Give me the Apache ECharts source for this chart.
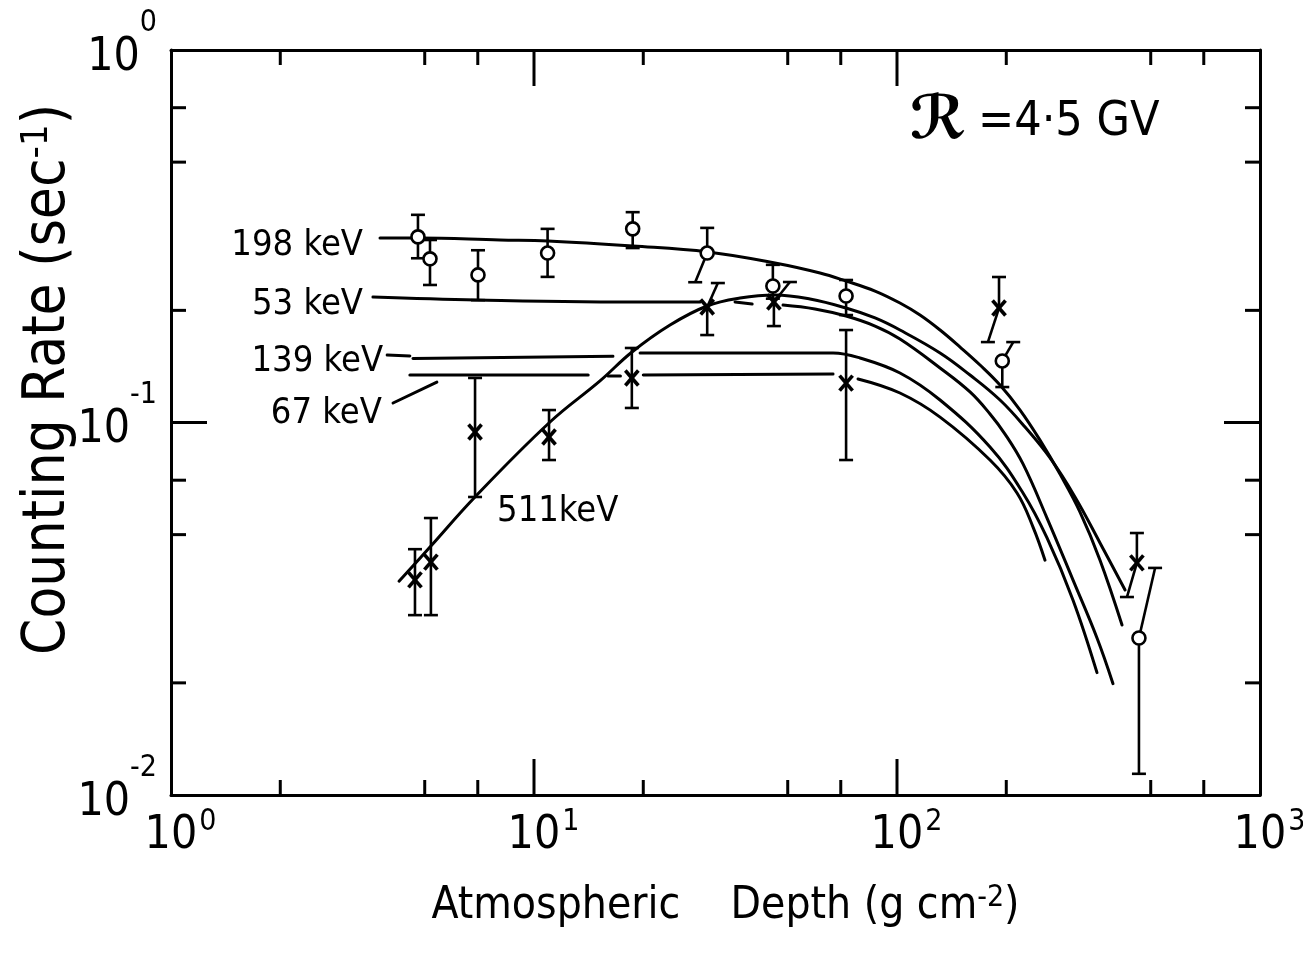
<!DOCTYPE html>
<html>
<head>
<meta charset="utf-8">
<script src="https://cdn.jsdelivr.net/npm/echarts@6/dist/echarts.min.js"></script>
<style>
  html, body { margin: 0; padding: 0; background: #fff; }
  #chart { width: 1303px; height: 955px; }
</style>
</head>
<body>
<div id="chart"></div>
<script>
const FONT = "'DejaVu Sans Condensed', 'Liberation Sans Narrow', 'DejaVu Sans', sans-serif";

// Axis ranges (log scales)
const depthRange = [1, 1000];      // g cm^-2
const rateRange = [0.01, 1];       // s^-1
const minorMultipliers = [2, 5, 7];

// Model curves: [depth, counting rate]; null splits a curve into pieces
const curve198 = [[3.765,0.3128],[4.791,0.3128],[8.059,0.3090],[10.93,0.3071],[18.74,0.2977],[30.16,0.2869],[46.12,0.2680],[61.37,0.2519],[72.37,0.2398],[87.0,0.2254],[101.9,0.2093],[115.7,0.1943],[131.4,0.1771],[149.2,0.1594],[169.3,0.1427],[192.2,0.1261],[218.3,0.1080],[247.7,0.0897],[281.2,0.0727],[319.3,0.0575],[362.5,0.0427],[416.8,0.0286]];
const curve511 = [[4.248,0.0375],[5.170,0.0463],[6.878,0.0631],[11.07,0.1003],[15.20,0.1293],[18.62,0.1546],[23.70,0.1827],[29.97,0.2055],[36.94,0.2158],[46.12,0.2199],[57.59,0.2145],[72.37,0.2029],[87.0,0.1908],[101.9,0.1771],[131.4,0.1537],[158.9,0.1341],[192.2,0.1149],[225.3,0.0972],[264.0,0.0803],[309.3,0.0631],[362.5,0.0475],[424.9,0.0355]];
const curve53 = [[3.60,0.2172],[6.97,0.2133],[20.9,0.2106],[28.7,0.2106],null,[35.8,0.2106],[39.9,0.2080],null,[48.53,0.2067],[59.44,0.2017],[72.37,0.1931],[87.0,0.1815],[101.9,0.1675],[131.4,0.1401],[158.9,0.1208],[180.4,0.1054],[198.4,0.0931],[222.4,0.0774],[259.0,0.0554],[305.3,0.0378],[355.6,0.0264],[393.6,0.0199]];
const curve139 = [[4.64,0.1485],[16.5,0.1505],null,[19.6,0.1537],[66.65,0.1537],[79.08,0.1490],[101.9,0.1358],[131.4,0.1149],[180.4,0.0859],[222.4,0.0647],[259.0,0.0490],[305.3,0.0334],[355.6,0.0213]];
const curve67 = [[4.55,0.1341],[14.1,0.1341],null,[16.0,0.1333],[17.3,0.1333],null,[20.0,0.1341],[66.65,0.1350],null,[78.09,0.1309],[101.9,0.1200],[131.4,0.1034],[180.4,0.0793],[214.1,0.0647],[237.0,0.0524],[255.7,0.0427]];

// Leader strokes from labels to curves
const leader139 = [[3.94,0.1518],[4.55,0.1509]];
const leader67 = [[4.09,0.1128],[5.40,0.1284]];

// Measurements: [depth, rate, errLow, errHigh, depthAtLowEnd, depthAtHighEnd]
const circlePoints = [
  [4.79,0.315,0.276,0.361,4.79,4.79],
  [5.17,0.275,0.234,0.309,5.17,5.17],
  [7.01,0.249,0.213,0.290,7.01,7.01],
  [10.9,0.285,0.246,0.331,10.9,10.9],
  [18.7,0.331,0.294,0.367,18.7,18.7],
  [30.0,0.285,0.238,0.333,27.8,30.0],
  [45.5,0.2325,0.215,0.265,45.5,45.5],
  [72.4,0.2186,0.1943,0.2413,72.4,72.4],
  [195,0.1463,0.1245,0.1644,195,209],
  [464,0.0264,0.0114,0.0407,464,514]
];
const crossPoints = [
  [4.70,0.0378,0.0304,0.0457,4.70,4.70],
  [5.20,0.0422,0.0304,0.0554,5.20,5.20],
  [6.88,0.0943,0.0631,0.1317,6.88,6.88],
  [11.0,0.0914,0.0793,0.1080,11.0,11.0],
  [18.6,0.1317,0.1094,0.1585,18.6,18.6],
  [30.0,0.2042,0.1717,0.2368,30.0,32.1],
  [45.8,0.2106,0.1815,0.2383,45.8,50.7],
  [72.4,0.1276,0.0793,0.1771,72.4,72.4],
  [191,0.2029,0.1644,0.2458,178,191],
  [458,0.0420,0.0340,0.0505,430,458]
];

// Curve labels: text and anchor [depth, rate]
const labelTexts = ['198 keV', '53 keV', '139 keV', '67 keV', '511keV'];
const labelAnchors = [[3.38,0.2977],[3.38,0.2067],[3.84,0.1454],[3.81,0.1054],[7.91,0.0575]];
const labelAlign = ['right', 'right', 'right', 'right', 'left'];

// Tick marks along the frame: [depth, rate, side (0 bottom,1 top,2 left,3 right), major]
function buildTicks() {
  const ticks = [];
  for (let d = depthRange[0]; d < depthRange[1]; d *= 10) {
    minorMultipliers.forEach(m => {
      ticks.push([d * m, rateRange[0], 0, 0], [d * m, rateRange[1], 1, 0]);
    });
    if (d > depthRange[0]) ticks.push([d, rateRange[0], 0, 1], [d, rateRange[1], 1, 1]);
  }
  for (let r = rateRange[0]; r < rateRange[1] * 0.999; r *= 10) {
    minorMultipliers.forEach(m => {
      ticks.push([depthRange[0], r * m, 2, 0], [depthRange[1], r * m, 3, 0]);
    });
    if (r > rateRange[0] * 1.001) ticks.push([depthRange[0], r, 2, 1], [depthRange[1], r, 3, 1]);
  }
  return ticks;
}

function splitSegments(points) {
  const segs = [[]];
  points.forEach(p => { if (p === null) segs.push([]); else segs[segs.length - 1].push(p); });
  return segs.filter(s => s.length > 1);
}

const LINE_W = 3;
const lineSeries = [];
[curve198, curve511, curve53, curve139, curve67, leader139, leader67].forEach(curve => {
  splitSegments(curve).forEach(seg => {
    lineSeries.push({
      type: 'line', data: seg, showSymbol: false, symbol: 'none',
      smooth: seg.length > 2 ? 0.4 : false, silent: true, z: 2,
      lineStyle: { color: '#000', width: LINE_W, cap: 'round', join: 'round' }
    });
  });
});

function errorBarItem(kind) {
  return function (params, api) {
    const c = api.coord([api.value(0), api.value(1)]);
    const lo = api.coord([api.value(4), api.value(2)]);
    const hi = api.coord([api.value(5), api.value(3)]);
    const cap = 7;
    const st = { stroke: '#000', lineWidth: 2.6, fill: null };
    const children = [
      { type: 'line', shape: { x1: c[0], y1: c[1], x2: hi[0], y2: hi[1] }, style: st },
      { type: 'line', shape: { x1: hi[0] - cap, y1: hi[1], x2: hi[0] + cap, y2: hi[1] }, style: st },
      { type: 'line', shape: { x1: c[0], y1: c[1], x2: lo[0], y2: lo[1] }, style: st },
      { type: 'line', shape: { x1: lo[0] - cap, y1: lo[1], x2: lo[0] + cap, y2: lo[1] }, style: st }
    ];
    if (kind === 'circle') {
      children.push({ type: 'circle', shape: { cx: c[0], cy: c[1], r: 6.5 },
        style: { fill: '#fff', stroke: '#000', lineWidth: 2.6 } });
    } else {
      const s = 6.5;
      const xs = { stroke: '#000', lineWidth: 3.6 };
      children.push(
        { type: 'line', shape: { x1: c[0] - s, y1: c[1] - s - 1, x2: c[0] + s, y2: c[1] + s + 1 }, style: xs },
        { type: 'line', shape: { x1: c[0] + s, y1: c[1] - s - 1, x2: c[0] - s, y2: c[1] + s + 1 }, style: xs }
      );
    }
    return { type: 'group', children };
  };
}

const chart = echarts.init(document.getElementById('chart'), null, { renderer: 'canvas' });

const axisLineStyle = { lineStyle: { color: '#000', width: 3 } };
const expFormatter = v => '{b|10}{s|' + Math.round(Math.log10(v)) + '}';

chart.setOption({
  animation: false,
  backgroundColor: '#fff',
  grid: { left: 171, right: 43, top: 50, bottom: 160, containLabel: false, outerBoundsMode: 'none' },
  xAxis: [
    {
      type: 'log', logBase: 10, min: depthRange[0], max: depthRange[1], position: 'bottom',
      axisLine: axisLineStyle, axisTick: { show: false }, splitLine: { show: false }, minorTick: { show: false },
      axisLabel: {
        show: true, showMinLabel: true, showMaxLabel: true, margin: 12, color: '#000',
        formatter: expFormatter,
        rich: {
          b: { fontFamily: FONT, fontSize: 46, lineHeight: 58, color: '#000', padding: [0, 0, 0, 19] },
          s: { fontFamily: FONT, fontSize: 30, lineHeight: 26, color: '#000', verticalAlign: 'top', padding: [0, 0, 0, 2] }
        }
      },
      name: '{t|Atmospheric    Depth (g cm}{s|-2}{t|)}',
      nameLocation: 'middle', nameGap: 88, nameMoveOverlap: false,
      nameTextStyle: {
        padding: [0, 0, 0, 20],
        rich: {
          t: { fontFamily: FONT, fontSize: 44, lineHeight: 48, color: '#000' },
          s: { fontFamily: FONT, fontSize: 30, lineHeight: 25, color: '#000', verticalAlign: 'top' }
        }
      }
    },
    {
      type: 'log', logBase: 10, min: depthRange[0], max: depthRange[1], position: 'top',
      axisLine: axisLineStyle, axisTick: { show: false }, axisLabel: { show: false }, splitLine: { show: false }
    }
  ],
  yAxis: [
    {
      type: 'log', logBase: 10, min: rateRange[0], max: rateRange[1], position: 'left',
      axisLine: axisLineStyle, axisTick: { show: false }, splitLine: { show: false }, minorTick: { show: false },
      axisLabel: {
        show: true, showMinLabel: true, showMaxLabel: true, margin: 14, color: '#000',
        padding: [16, 0, 0, 0],
        formatter: expFormatter,
        rich: {
          b: { fontFamily: FONT, fontSize: 46, lineHeight: 100, color: '#000' },
          s: { fontFamily: FONT, fontSize: 30, lineHeight: 30, color: '#000', verticalAlign: 'top' }
        }
      },
      name: '{t|Counting Rate (sec}{s|-1}{t|)}',
      nameLocation: 'middle', nameRotate: 90, nameGap: 91, nameMoveOverlap: false,
      nameTextStyle: {
        padding: [0, 0, 0, 86],
        rich: {
          t: { fontFamily: FONT, fontSize: 58, lineHeight: 62, color: '#000' },
          s: { fontFamily: FONT, fontSize: 38, lineHeight: 30, color: '#000', verticalAlign: 'top' }
        }
      }
    },
    {
      type: 'log', logBase: 10, min: rateRange[0], max: rateRange[1], position: 'right',
      axisLine: axisLineStyle, axisTick: { show: false }, axisLabel: { show: false }, splitLine: { show: false }
    }
  ],
  graphic: [
    { type: 'text', left: 910, top: 92, style: { text: 'ℛ', font: "bold 60px 'DejaVu Sans'", fill: '#000' } },
    { type: 'text', left: 978, top: 99, style: { text: '=4·5 GV', font: '48px ' + FONT, fill: '#000' } }
  ],
  series: [
    ...lineSeries,
    {
      type: 'custom', name: 'frame ticks', data: buildTicks(), silent: true, z: 3,
      encode: { x: 0, y: 1 },
      renderItem: (params, api) => {
        const p = api.coord([api.value(0), api.value(1)]);
        const side = api.value(2);
        const len = api.value(3) ? 36 : 15;
        const d = [[0, -len], [0, len], [len, 0], [-len, 0]][side];
        return { type: 'line', shape: { x1: p[0], y1: p[1], x2: p[0] + d[0], y2: p[1] + d[1] },
          style: { stroke: '#000', lineWidth: 3 } };
      }
    },
    {
      type: 'custom', name: '198 keV data', data: circlePoints, silent: true, z: 5,
      encode: { x: 0, y: 1 }, renderItem: errorBarItem('circle')
    },
    {
      type: 'custom', name: '511 keV data', data: crossPoints, silent: true, z: 5,
      encode: { x: 0, y: 1 }, renderItem: errorBarItem('cross')
    },
    {
      type: 'custom', name: 'curve labels', data: labelAnchors, silent: true, z: 6,
      encode: { x: 0, y: 1 },
      renderItem: (params, api) => {
        const p = api.coord([api.value(0), api.value(1)]);
        return { type: 'text', x: p[0], y: p[1],
          style: { text: labelTexts[params.dataIndex], font: '36px ' + FONT, fill: '#000',
            textAlign: labelAlign[params.dataIndex], textVerticalAlign: 'middle' } };
      }
    }
  ]
});
</script>
</body>
</html>
